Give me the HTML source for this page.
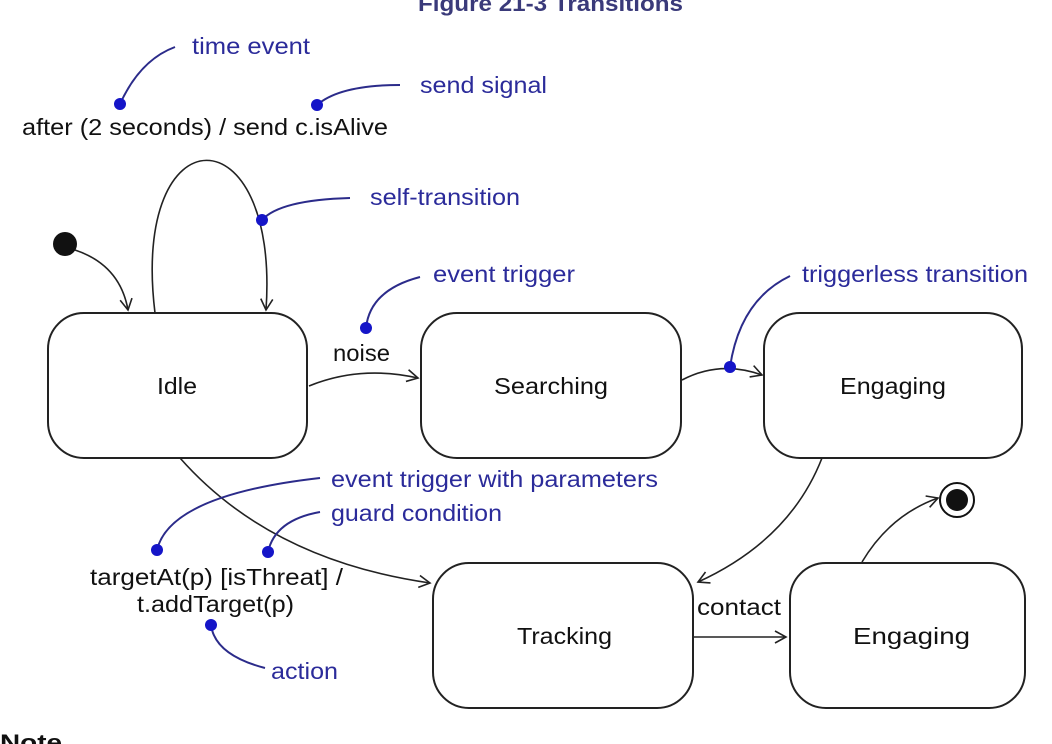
<!DOCTYPE html>
<html><head><style>
body{margin:0;background:#fff;}
svg{display:block;font-family:"Liberation Sans",Arial,sans-serif;}
</style></head><body>
<svg width="1052" height="744" viewBox="0 0 1052 744">
<defs><marker id="a" markerWidth="14" markerHeight="14" refX="12" refY="7" orient="auto" markerUnits="userSpaceOnUse"><path d="M1,1 L12,7 L1,13" fill="none" stroke="#222" stroke-width="1.6"/></marker></defs>
<text x="418" y="11" font-size="22" font-weight="bold" fill="#3a3a7a" textLength="265" lengthAdjust="spacingAndGlyphs">Figure 21-3 Transitions</text>
<g fill="none" stroke="#222" stroke-width="2">
<rect x="48" y="313" width="259" height="145" rx="36"/>
<rect x="421" y="313" width="260" height="145" rx="36"/>
<rect x="764" y="313" width="258" height="145" rx="36"/>
<rect x="433" y="563" width="260" height="145" rx="36"/>
<rect x="790" y="563" width="235" height="145" rx="36"/>
</g>
<g fill="none" stroke="#222" stroke-width="1.6">
<path d="M75,250 Q120,265 128,310" marker-end="url(#a)"/>
<path d="M155,313 C130,110 280,110 266,310" marker-end="url(#a)"/>
<path d="M309,386 Q360,365 418,378" marker-end="url(#a)"/>
<path d="M682,380 Q720,360 762,375" marker-end="url(#a)"/>
<path d="M822,458 Q790,540 698,582" marker-end="url(#a)"/>
<path d="M180,458 Q270,560 430,583" marker-end="url(#a)"/>
<path d="M694,637 L786,637" marker-end="url(#a)"/>
<path d="M862,562 Q890,515 938,498" marker-end="url(#a)"/>
</g>
<circle cx="65" cy="244" r="12" fill="#111"/>
<circle cx="957" cy="500" r="17" fill="none" stroke="#111" stroke-width="2"/>
<circle cx="957" cy="500" r="11" fill="#111"/>
<g font-size="23" fill="#111">
<text x="157" y="394" textLength="40" lengthAdjust="spacingAndGlyphs">Idle</text>
<text x="494" y="394" textLength="114" lengthAdjust="spacingAndGlyphs">Searching</text>
<text x="840" y="394" textLength="106" lengthAdjust="spacingAndGlyphs">Engaging</text>
<text x="517" y="644" textLength="95" lengthAdjust="spacingAndGlyphs">Tracking</text>
<text x="853" y="644" textLength="117" lengthAdjust="spacingAndGlyphs">Engaging</text>
<text x="333" y="361" textLength="57" lengthAdjust="spacingAndGlyphs">noise</text>
<text x="697" y="615" textLength="84" lengthAdjust="spacingAndGlyphs">contact</text>
<text x="22" y="135" textLength="366" lengthAdjust="spacingAndGlyphs">after (2 seconds) / send c.isAlive</text>
<text x="90" y="585" textLength="253" lengthAdjust="spacingAndGlyphs">targetAt(p) [isThreat] /</text>
<text x="137" y="612" textLength="157" lengthAdjust="spacingAndGlyphs">t.addTarget(p)</text>
</g>
<g fill="none" stroke="#2b2b8a" stroke-width="2">
<path d="M120,104 Q140,60 175,47"/>
<path d="M317,105 Q340,85 400,85"/>
<path d="M262,220 Q280,200 350,198"/>
<path d="M366,328 Q370,290 420,277"/>
<path d="M730,367 Q740,300 790,276"/>
<path d="M157,550 Q170,495 320,478"/>
<path d="M268,552 Q275,520 320,512"/>
<path d="M211,625 Q215,655 265,668"/>
</g>
<g fill="#1515c8">
<circle cx="120" cy="104" r="6"/><circle cx="317" cy="105" r="6"/><circle cx="262" cy="220" r="6"/>
<circle cx="366" cy="328" r="6"/><circle cx="730" cy="367" r="6"/><circle cx="157" cy="550" r="6"/>
<circle cx="268" cy="552" r="6"/><circle cx="211" cy="625" r="6"/>
</g>
<g font-size="23" fill="#2b2b9a">
<text x="192" y="54" textLength="118" lengthAdjust="spacingAndGlyphs">time event</text>
<text x="420" y="93" textLength="127" lengthAdjust="spacingAndGlyphs">send signal</text>
<text x="370" y="205" textLength="150" lengthAdjust="spacingAndGlyphs">self-transition</text>
<text x="433" y="282" textLength="142" lengthAdjust="spacingAndGlyphs">event trigger</text>
<text x="802" y="282" textLength="226" lengthAdjust="spacingAndGlyphs">triggerless transition</text>
<text x="331" y="487" textLength="327" lengthAdjust="spacingAndGlyphs">event trigger with parameters</text>
<text x="331" y="521" textLength="171" lengthAdjust="spacingAndGlyphs">guard condition</text>
<text x="271" y="679" textLength="67" lengthAdjust="spacingAndGlyphs">action</text>
</g>
<text x="0" y="750" font-size="22" font-weight="bold" fill="#111" textLength="62" lengthAdjust="spacingAndGlyphs">Note</text>
</svg>
</body></html>
